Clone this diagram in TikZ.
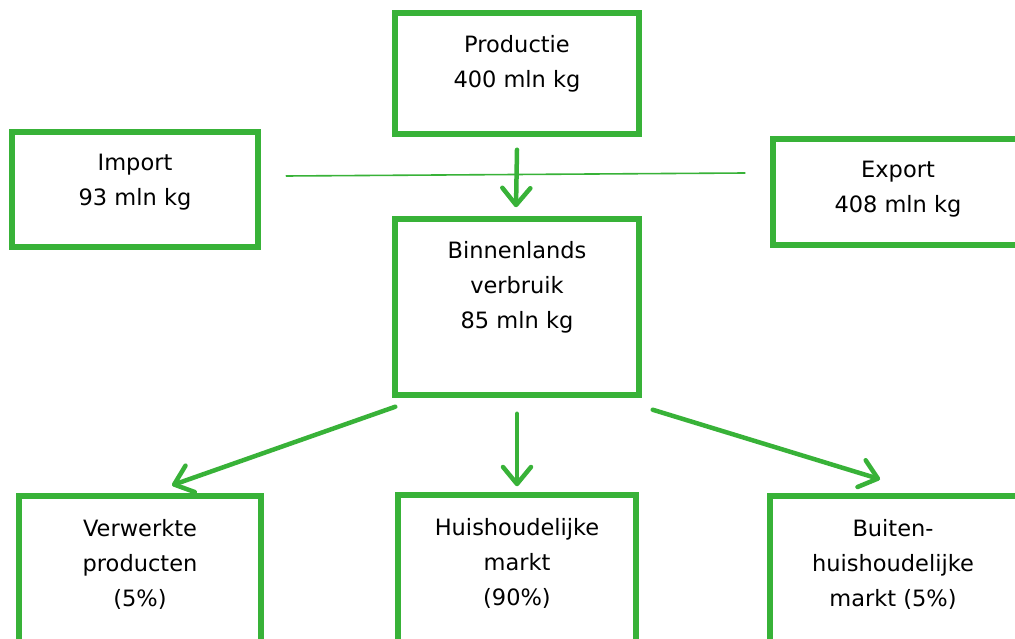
\documentclass[tikz,border=0pt]{standalone}
\usepackage{fontspec}
\setmainfont{DejaVu Sans}
\usetikzlibrary{arrows.meta}
\definecolor{grn}{RGB}{56,178,56}
\begin{document}
\begin{tikzpicture}[x=1pt,y=-1pt,
  box/.style={draw=grn,line width=5.5pt,rectangle,inner sep=0pt},
  txt/.style={align=center,font=\fontsize{22.5}{35}\selectfont,text=black,inner sep=0pt,anchor=center},
  arr/.style={draw=grn,line width=4.5pt,line cap=round,-{Straight Barb[length=17pt,width=28pt,line width=4.5pt,round]}},
  thin/.style={draw=grn,line width=1.6pt}]
\useasboundingbox (0,0) rectangle (1015,639);
\clip (0,0) rectangle (1015,639);
\fill[white] (0,0) rectangle (1015,639);
% boxes
\node[box,minimum width=244pt,minimum height=121pt] (prod) at (517,73.5) {};
\node[box,minimum width=246pt,minimum height=115pt] (imp) at (135,189.5) {};
\node[box,minimum width=250pt,minimum height=106pt] (exp) at (898,192) {};
\node[box,minimum width=244pt,minimum height=176pt] (binn) at (517,307) {};
\node[box,minimum width=242pt,minimum height=160pt] (verw) at (140,576) {};
\node[box,minimum width=238pt,minimum height=160pt] (huis) at (517,575) {};
\node[box,minimum width=250pt,minimum height=160pt] (buit) at (895,576) {};
% texts
\node[txt] (tprod) at (517,63.5) {Productie\\400 mln kg};
\node[txt] (timp) at (135,182.5) {Import\\93 mln kg};
\node[txt] (texp) at (898,189.5) {Export\\408 mln kg};
\node[txt] (tbinn) at (517,287) {Binnenlands\\verbruik\\85 mln kg};
\node[txt] (tverw) at (140,564.5) {Verwerkte\\producten\\(5\%)};
\node[txt] (thuis) at (517,563) {Huishoudelijke\\markt\\(90\%)};
\node[txt] (tbuit) at (893,564.5) {Buiten-\\huishoudelijke\\markt (5\%)};
% thin line
\draw[thin] ([shift={(25,-13.5)}]imp.east) -- ([shift={(-25,-19)}]exp.west);
% arrows
\draw[arr] ([shift={(0,13)}]prod.south) -- ([shift={(-1,-9)}]binn.north);
\draw[arr] ([shift={(3,9)}]binn.south west) -- ([shift={(32,-8)}]verw.north);
\draw[arr] ([shift={(0,16)}]binn.south) -- ([shift={(0,-6)}]huis.north);
\draw[arr] ([shift={(11,12)}]binn.south east) -- ([shift={(-15,-14)}]buit.north);
\end{tikzpicture}
\end{document}
